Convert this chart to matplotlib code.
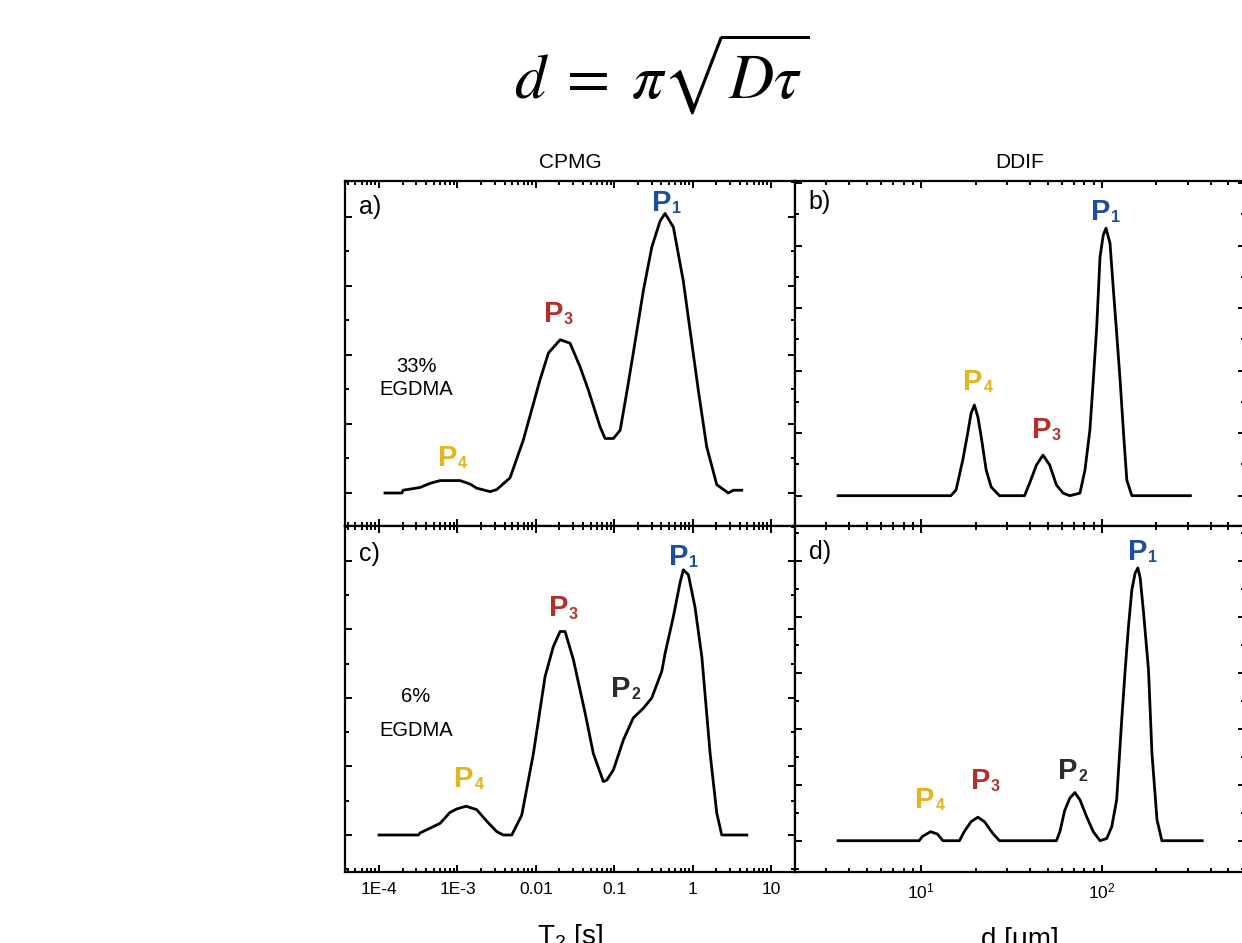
import numpy as np
import matplotlib
matplotlib.use("Agg")
import matplotlib.pyplot as plt
from matplotlib.ticker import FixedLocator, MultipleLocator, NullFormatter, LogLocator

plt.rcParams['font.family'] = ['Liberation Sans', 'DejaVu Sans']
plt.rcParams['mathtext.fontset'] = 'custom'
plt.rcParams['mathtext.rm'] = 'Liberation Sans'
plt.rcParams['mathtext.it'] = 'Liberation Sans:italic'
plt.rcParams['mathtext.bf'] = 'Liberation Sans:bold'

# --- CPMG, 33% EGDMA (panel a) ---
t2_a = [1.19e-4, 1.96e-4, 2.02e-4, 3.33e-4, 4.48e-4, 6.01e-4,
        1.08e-3, 1.45e-3, 1.76e-3, 2.61e-3, 3.17e-3, 4.69e-3,
        6.93e-3, 0.0113, 0.0145, 0.0204, 0.0273, 0.0366,
        0.0468, 0.0659, 0.0764, 0.0975, 0.119, 0.144,
        0.175, 0.235, 0.301, 0.384, 0.445, 0.568,
        0.760, 1.18, 1.51, 2.03, 2.85, 3.30, 4.23]
amp_a = [0, 0, 0.04, 0.08, 0.14, 0.18,
         0.18, 0.13, 0.07, 0.02, 0.05, 0.22,
         0.77, 1.64, 2.03, 2.22, 2.17, 1.83,
         1.49, 0.96, 0.79, 0.79, 0.91, 1.45,
         2.03, 2.93, 3.56, 3.94, 4.05, 3.85,
         3.07, 1.49, 0.67, 0.12, 0.0, 0.04, 0.04]

# --- DDIF, 33% EGDMA (panel b) ---
d_b = [3.48, 14.6, 15.6, 17.0, 18.1, 18.9,
       19.7, 20.6, 21.5, 22.9, 24.4, 27.1,
       37.3, 39.8, 43.4, 47.2, 51.4, 56.0,
       61.0, 66.4, 75.5, 80.5, 85.7, 89.5,
       93.5, 97.5, 101.6, 105.2, 110.7, 115.6,
       120.5, 125.9, 131.5, 137.1, 146.2, 308]
amp_b = [0, 0, 0.09, 0.57, 1.00, 1.32,
         1.45, 1.26, 0.94, 0.41, 0.14, 0,
         0, 0.20, 0.49, 0.65, 0.49, 0.17,
         0.04, 0, 0.04, 0.41, 1.05, 1.85,
         2.70, 3.82, 4.17, 4.28, 4.04, 3.29,
         2.60, 1.85, 1.00, 0.25, 0, 0]

# --- CPMG, 6% EGDMA (panel c) ---
t2_c = [1.0e-4, 3.17e-4, 3.33e-4, 4.48e-4, 6.0e-4, 8.05e-4,
        9.79e-4, 1.29e-3, 1.76e-3, 2.37e-3, 3.17e-3, 3.85e-3,
        4.93e-3, 6.61e-3, 9.31e-3, 0.0131, 0.0167, 0.0204,
        0.0236, 0.0301, 0.0425, 0.0541, 0.0726, 0.0802,
        0.0975, 0.131, 0.175, 0.235, 0.301, 0.404,
        0.445, 0.568, 0.690, 0.760, 0.881, 1.07,
        1.31, 1.67, 2.03, 2.35, 4.90]
amp_c = [0, 0, 0.03, 0.10, 0.17, 0.33,
         0.38, 0.42, 0.37, 0.20, 0.05, 0,
         0, 0.29, 1.19, 2.31, 2.75, 2.97,
         2.97, 2.56, 1.78, 1.19, 0.78, 0.80,
         0.95, 1.39, 1.71, 1.85, 2.00, 2.39,
         2.65, 3.19, 3.68, 3.87, 3.80, 3.33,
         2.60, 1.19, 0.32, 0, 0]

# --- DDIF, 6% EGDMA (panel d) ---
d_d = [3.48, 9.75, 10.2, 11.3, 12.3, 13.2,
       16.3, 17.3, 18.9, 20.6, 22.4, 24.9,
       27.1, 56.0, 58.5, 62.2, 66.4, 70.8,
       75.5, 82.2, 89.5, 97.5, 106.2, 113.2,
       120.5, 128.5, 134.3, 140.0, 146.2, 152.4,
       157.8, 162.6, 169.8, 180.7, 188.8, 201.4,
       214.3, 358]
amp_d = [0, 0, 0.08, 0.16, 0.12, 0,
         0, 0.16, 0.34, 0.42, 0.34, 0.13,
         0, 0, 0.16, 0.54, 0.76, 0.86,
         0.73, 0.43, 0.16, 0, 0.04, 0.25,
         0.73, 2.16, 3.05, 3.82, 4.48, 4.78,
         4.87, 4.69, 4.06, 3.05, 1.56, 0.37,
         0, 0]

t2_ticks = [1e-4, 1e-3, 1e-2, 1e-1, 1, 10]
t2_ticklabels = ['1E-4', '1E-3', '0.01', '0.1', '1', '10']

# peak labels: (x, y, index)
peaks_a = [(0.407, 4.08, '1'), (0.0168, 2.48, '3'), (7.48e-4, 0.39, '4')]
peaks_b = [(98.4, 4.41, '1'), (19.4, 1.69, '4'), (46.3, 0.92, '3')]
peaks_c = [(0.671, 3.94, '1'), (0.0195, 3.19, '3'), (0.121, 2.02, '2'), (1.21e-3, 0.705, '4')]
peaks_d = [(157, 5.01, '1'), (64.8, 1.11, '2'), (21.3, 0.92, '3'), (10.5, 0.58, '4')]

peak_colors = {'1': '#1f4f9a', '2': '#2b2b2b', '3': '#b1302a', '4': '#e2b51c'}

W, H = 1242, 943
fig = plt.figure(figsize=(W / 100, H / 100), dpi=100)


def px_axes(x0, y0, x1, y1):
    return fig.add_axes([x0 / W, 1 - y1 / H, (x1 - x0) / W, (y1 - y0) / H])


ax_a = px_axes(345, 181, 795, 526)
ax_b = px_axes(795, 181, 1245, 526)
ax_c = px_axes(345, 526, 795, 872)
ax_d = px_axes(795, 526, 1245, 872)


def style(ax):
    ax.set_xscale('log')
    for sp in ax.spines.values():
        sp.set_linewidth(1.6)
    ax.tick_params(which='both', direction='in', top=True, right=True,
                   labelleft=False, width=1.4)
    ax.tick_params(which='major', length=5)
    ax.tick_params(which='minor', length=3)
    ax.tick_params(axis='x', labelsize=12.5, pad=7)
    ax.yaxis.set_major_locator(MultipleLocator(1))
    ax.yaxis.set_minor_locator(MultipleLocator(0.5))
    ax.xaxis.set_minor_locator(LogLocator(base=10, subs=np.arange(2, 10), numticks=20))
    ax.xaxis.set_minor_formatter(NullFormatter())


def peak_label(ax, x, y, n):
    c = peak_colors[n]
    ax.text(x, y, 'P', color=c, fontsize=21, fontweight='bold',
            ha='center', va='baseline')
    ax.annotate(n, xy=(x, y), xytext=(7.5, -1.5), textcoords='offset points',
                color=c, fontsize=11.5, fontweight='bold', ha='left', va='baseline')


for ax, x, y, peaks in [(ax_a, t2_a, amp_a, peaks_a), (ax_c, t2_c, amp_c, peaks_c)]:
    style(ax)
    ax.plot(x, y, color='black', lw=2)
    ax.set_xlim(3.68e-5, 20.2)
    ax.xaxis.set_major_locator(FixedLocator(t2_ticks))
    ax.set_xticklabels(t2_ticklabels)
    for px, py, n in peaks:
        peak_label(ax, px, py, n)

for ax, x, y, peaks in [(ax_b, d_b, amp_b, peaks_b), (ax_d, d_d, amp_d, peaks_d)]:
    style(ax)
    ax.plot(x, y, color='black', lw=2)
    ax.set_xlim(2.01, 617)
    ax.xaxis.set_major_locator(LogLocator(base=10, numticks=10))
    for px, py, n in peaks:
        peak_label(ax, px, py, n)

ax_a.set_ylim(-0.478, 4.52)
ax_b.set_ylim(-0.485, 5.035)
ax_c.set_ylim(-0.540, 4.51)
ax_d.set_ylim(-0.559, 5.62)

ax_a.tick_params(labelbottom=False)
ax_b.tick_params(labelbottom=False)

ax_a.set_title('CPMG', fontsize=15, pad=9)
ax_b.set_title('DDIF', fontsize=15, pad=9)

for ax, lab, ytop in [(ax_a, 'a)', 0.96), (ax_b, 'b)', 0.975), (ax_c, 'c)', 0.955), (ax_d, 'd)', 0.96)]:
    ax.text(0.03, ytop, lab, transform=ax.transAxes, fontsize=18, ha='left', va='top')

ax_a.text(0.158, 0.462, '33%', transform=ax_a.transAxes, fontsize=14.5, ha='center', va='center')
ax_a.text(0.158, 0.397, 'EGDMA', transform=ax_a.transAxes, fontsize=14.5, ha='center', va='center')
ax_c.text(0.158, 0.507, '6%', transform=ax_c.transAxes, fontsize=14.5, ha='center', va='center')
ax_c.text(0.158, 0.408, 'EGDMA', transform=ax_c.transAxes, fontsize=14.5, ha='center', va='center')

ax_c.set_xlabel(r'T$_2$ [s]', fontsize=20, labelpad=18)
ax_d.set_xlabel('d [\u03bcm]', fontsize=20, labelpad=18)

fig.text(662 / W, 1 - 74 / H, r'$d\;=\;\pi\sqrt{D\tau}$', math_fontfamily='stix',
         fontsize=45, ha='center', va='center')

fig.savefig('out.png', dpi=100)
